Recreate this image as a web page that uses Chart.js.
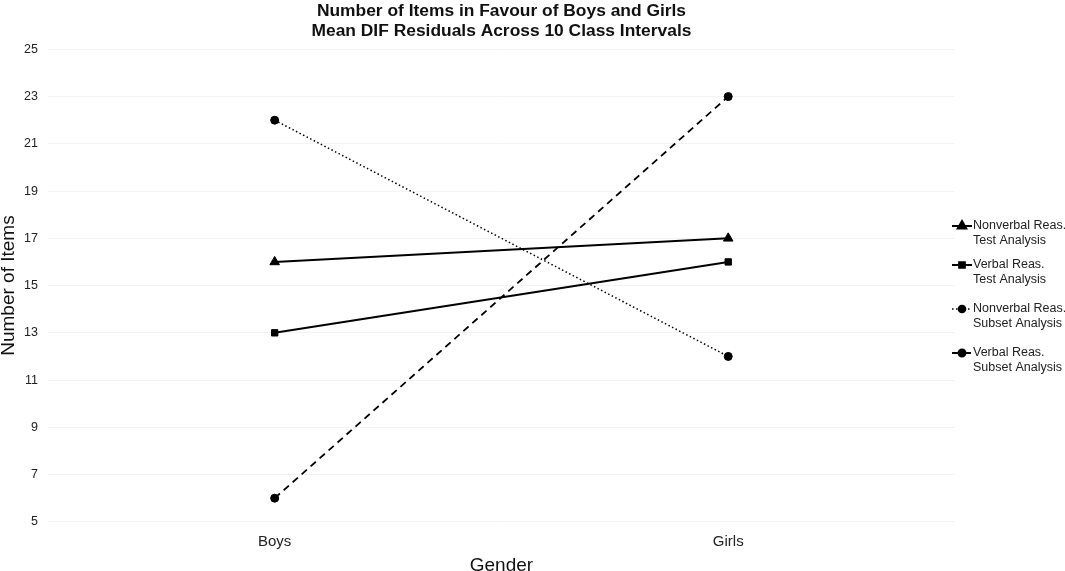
<!DOCTYPE html>
<html>
<head>
<meta charset="utf-8">
<script src="https://cdn.jsdelivr.net/npm/chart.js@4.4.1/dist/chart.umd.min.js"></script>
<style>
  html,body{margin:0;padding:0;background:#fff;}
  #wrap{position:relative;width:1065px;height:571px;}
</style>
</head>
<body>
<div id="wrap"><canvas id="graphique"></canvas></div>
<script>
// donnees
const genres = ["Boys", "Girls"]
const nonverbalTest = [16, 17]
const verbalTest = [13, 16]
const nonverbalSubset = [22, 12]
const verbalSubset = [6, 23]
const nomsSeries = [
  ["Nonverbal Reas.", "Test Analysis"],
  ["Verbal Reas.", "Test Analysis"],
  ["Nonverbal Reas.", "Subset Analysis"],
  ["Verbal Reas.", "Subset Analysis"]
]
const yMin = 5, yMax = 25, yPas = 2

const police = "'Liberation Sans', Arial, sans-serif"

// legende dessinee a droite (texte sur deux lignes)
const legendeDroite = {
  id: "legendeDroite",
  afterDraw(chart) {
    const ctx = chart.ctx
    const positions = [226, 265, 309, 353]
    ctx.save()
    ctx.font = "12.5px " + police
    ctx.textBaseline = "middle"
    chart.data.datasets.forEach((ds, i) => {
      const y = positions[i]
      ctx.strokeStyle = "#000"
      ctx.lineWidth = ds.borderWidth
      ctx.setLineDash(ds.borderDash || [])
      ctx.beginPath()
      ctx.moveTo(952, y)
      ctx.lineTo(972, y)
      ctx.stroke()
      ctx.setLineDash([])
      ctx.fillStyle = "#000"
      Chart.helpers.drawPoint(ctx, {
        pointStyle: ds.pointStyle,
        radius: ds.pointRadius * 0.9,
        rotation: 0,
        borderWidth: 1
      }, 962, y)
      ctx.fillStyle = "#222"
      ds.label.forEach((ligne, k) => {
        ctx.fillText(ligne, 973, y + k * 15)
      })
    })
    ctx.restore()
  }
}

function serie(label, data, style, dash, largeur, rayon) {
  return {
    label: label,
    data: data,
    borderColor: "#000",
    backgroundColor: "#000",
    borderWidth: largeur,
    borderDash: dash,
    pointStyle: style,
    pointRadius: rayon,
    pointHoverRadius: rayon,
    pointBorderWidth: 1,
    tension: 0
  }
}

const data = {
  labels: genres,
  datasets: [
    serie(nomsSeries[0], nonverbalTest, "triangle", [], 2, 5.5),
    serie(nomsSeries[1], verbalTest, "rect", [], 2, 4.5),
    serie(nomsSeries[2], nonverbalSubset, "circle", [1.5, 2.5], 1.5, 4),
    serie(nomsSeries[3], verbalSubset, "circle", [7, 5], 1.8, 4)
  ]
}

const config = {
  type: "line",
  data: data,
  plugins: [legendeDroite],
  options: {
    responsive: false,
    animation: false,
    layout: { padding: { top: 0, right: 110, bottom: 0, left: 0 } },
    plugins: {
      legend: { display: false },
      tooltip: { enabled: false },
      title: {
        display: true,
        fullSize: false,
        text: ["Number of Items in Favour of Boys and Girls", "Mean DIF Residuals Across 10 Class Intervals"],
        color: "#111",
        font: { family: police, size: 17.4, weight: "bold", lineHeight: 1.13 },
        padding: { top: 1.5, bottom: 8.5 }
      }
    },
    scales: {
      x: {
        offset: true,
        grid: { display: false, drawTicks: false },
        border: { display: false },
        ticks: { color: "#222", font: { family: police, size: 15 }, padding: 11 },
        title: {
          display: true,
          text: "Gender",
          color: "#111",
          font: { family: police, size: 19, lineHeight: 0.8 },
          padding: { top: -4, bottom: -2 }
        }
      },
      y: {
        min: yMin,
        max: yMax,
        grid: { color: "#f3f3f3", lineWidth: 1, drawTicks: false },
        border: { display: false },
        ticks: { stepSize: yPas, color: "#222", font: { family: police, size: 12.5 }, padding: 10 },
        title: {
          display: true,
          text: "Number of Items",
          color: "#111",
          font: { family: police, size: 19, lineHeight: 0.8 },
          padding: { top: 1.4, bottom: -2.6 }
        }
      }
    }
  }
}

const canvas = document.querySelector("#graphique")
canvas.width = 1065
canvas.height = 571
new Chart(canvas, config)
</script>
</body>
</html>
